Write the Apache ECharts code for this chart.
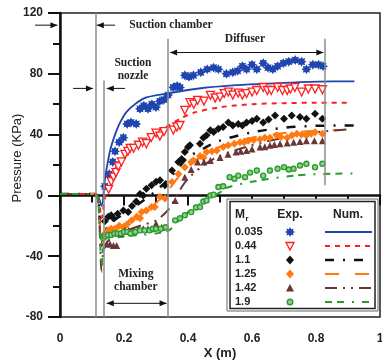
<!DOCTYPE html>
<html>
<head>
<meta charset="utf-8">
<script src="https://cdn.jsdelivr.net/npm/echarts@6/dist/echarts.min.js"></script>
<style>
html,body{margin:0;padding:0;background:#fff;}
#chart{width:382px;height:360px;}
</style>
</head>
<body>
<div id="chart"></div>
<script>
// pressure along the ejector, x in m, pressure in kPa
var mrLabels = ['0.035', '0.44', '1.1', '1.25', '1.42', '1.9'];
var colors = ['#1f45b0', '#ff1f1f', '#111111', '#ff7a12', '#6b3636', '#2a9a2a'];

// experimental points
var exp035 = [[0.14,6],[0.154,14],[0.165,22],[0.172,29],[0.185,35],[0.198,38],[0.21,47],[0.222,48],[0.238,47],[0.25,57],[0.262,59],[0.275,57],[0.287,60],[0.3,58],[0.312,62],[0.325,63],[0.338,66],[0.354,71],[0.366,72],[0.375,71],[0.39,79],[0.403,78],[0.417,79],[0.44,81],[0.46,83],[0.48,84],[0.495,83],[0.52,80],[0.54,81],[0.555,82],[0.57,85],[0.583,83],[0.6,86],[0.615,83],[0.635,87],[0.65,84],[0.665,83],[0.68,85],[0.698,87],[0.715,88],[0.735,89],[0.755,88],[0.77,83],[0.79,86],[0.808,86],[0.822,85]];
var exp044 = [[0.152,4],[0.16,9],[0.167,12],[0.175,15],[0.182,19],[0.192,22],[0.203,27],[0.212,29],[0.219,31],[0.23,31],[0.245,33],[0.258,35],[0.27,34],[0.285,38],[0.3,41],[0.312,39],[0.325,42],[0.354,43],[0.365,45],[0.375,46],[0.39,56],[0.406,61],[0.418,60],[0.43,62.5],[0.45,62],[0.47,65.8],[0.485,64],[0.5,64.7],[0.513,67],[0.526,68],[0.54,66],[0.557,67.3],[0.57,66],[0.583,67],[0.6,68],[0.615,69],[0.635,71],[0.648,69],[0.66,69],[0.68,71],[0.695,69],[0.71,69],[0.72,70],[0.734,71],[0.755,68],[0.776,70],[0.797,70],[0.82,69.5]];
var exp110 = [[0.14,-17],[0.151,-14],[0.16,-13],[0.167,-15],[0.18,-12],[0.198,-10],[0.213,-11],[0.225,-7],[0.238,-4],[0.25,1],[0.26,0],[0.27,4.4],[0.286,6.6],[0.3,9],[0.3125,10],[0.328,6.6],[0.35,16.4],[0.37,22],[0.38,24],[0.39,28.5],[0.4,31.8],[0.406,33],[0.4375,34],[0.448,38],[0.458,39.5],[0.47,42.8],[0.48,41.7],[0.495,43.9],[0.51,45],[0.526,48],[0.54,46],[0.557,47],[0.57,46],[0.583,48],[0.6,49],[0.615,50.4],[0.635,48],[0.652,50],[0.672,52.6],[0.7,50.4],[0.724,52.6],[0.75,51.5],[0.77,50.4],[0.797,53.7],[0.82,50.4]];
var exp125 = [[0.14,-25],[0.151,-23],[0.16,-22],[0.172,-22],[0.185,-20],[0.198,-21],[0.21,-19],[0.224,-16.4],[0.24,-14],[0.25,-15],[0.255,-11],[0.27,-10],[0.286,-7.7],[0.296,-7.7],[0.3125,-1],[0.328,-2],[0.35,8.8],[0.37,14],[0.39,18.6],[0.41,22],[0.417,23],[0.4375,26],[0.448,25],[0.458,28.5],[0.475,29],[0.49,29.6],[0.51,31.8],[0.526,33],[0.545,34],[0.5625,35],[0.575,35],[0.588,36],[0.605,36.5],[0.625,37],[0.64,38],[0.656,38],[0.677,39.5],[0.69,38.5],[0.71,38],[0.725,39.5],[0.74,40.6],[0.755,40],[0.77,39.5],[0.785,40.6],[0.797,41.6],[0.82,40.6]];
var exp142 = [[0.146,-32],[0.156,-32],[0.167,-33],[0.177,-33],[0.19,-25],[0.203,-23],[0.215,-23],[0.23,-23],[0.245,-22],[0.26,-22],[0.275,-22],[0.286,-22],[0.3,-18.6],[0.318,-21],[0.36,-3.3],[0.39,12],[0.41,17],[0.43,22],[0.45,22],[0.47,23],[0.5,25],[0.525,27],[0.55,28.5],[0.565,29],[0.583,29.6],[0.6,30.5],[0.625,31.8],[0.64,32],[0.656,33],[0.67,33.5],[0.6875,34],[0.71,34.5],[0.73,35],[0.75,35.5],[0.77,36],[0.795,36],[0.82,36]];
var exp190 = [[0.135,-28],[0.14,-27],[0.15,-26],[0.16,-26],[0.17,-25],[0.18,-25],[0.19,-25],[0.2,-24],[0.21,-24],[0.22,-25],[0.235,-24],[0.25,-23],[0.265,-23],[0.28,-23],[0.29,-22],[0.3,-22],[0.315,-22],[0.33,-21],[0.36,-16.4],[0.375,-15],[0.39,-13],[0.41,-11],[0.425,-8],[0.4375,-7.7],[0.448,-4],[0.458,-3.3],[0.47,0],[0.48,0.5],[0.495,5.5],[0.51,6],[0.53,12],[0.545,11],[0.557,13],[0.578,12],[0.594,15],[0.615,16.4],[0.635,13],[0.656,16.4],[0.68,17.5],[0.7,18.6],[0.715,17],[0.73,17.5],[0.75,19.7],[0.77,20.8],[0.797,18.6],[0.82,20.8]];

// numerical curves
var num035 = [[0,1],[0.11,1],[0.12,-1],[0.13,-7],[0.14,10],[0.156,29],[0.172,40],[0.188,48],[0.208,55],[0.24,61],[0.27,64.5],[0.333,67],[0.44,70.5],[0.54,72.4],[0.65,73.5],[0.75,74.5],[0.85,75],[0.92,75]];
var num044 = [[0,1],[0.11,1],[0.12,-2],[0.13,-15],[0.14,-2],[0.16,12],[0.18,20],[0.2,27],[0.25,36],[0.3,42],[0.34,46],[0.38,51],[0.42,54.5],[0.5,58],[0.6,60],[0.7,60.7],[0.8,61],[0.91,61]];
var num110 = [[0,1],[0.11,1],[0.12,-3],[0.13,-33],[0.14,-24],[0.16,-18],[0.2,-12],[0.25,-5],[0.3,3],[0.34,11],[0.37,18],[0.4,25],[0.45,31],[0.5,36],[0.6,41.5],[0.7,44.5],[0.8,45.8],[0.93,46]];
var num125 = [[0,1],[0.11,1],[0.12,-4],[0.13,-33],[0.14,-27],[0.17,-22],[0.2,-19],[0.25,-13],[0.3,-5],[0.34,4],[0.37,12],[0.4,19],[0.45,27],[0.5,32],[0.55,35.5],[0.6,38],[0.7,41],[0.8,42.5],[0.88,43]];
var num142 = [[0,1],[0.11,1],[0.12,-5],[0.13,-50],[0.135,-38],[0.15,-30],[0.2,-24],[0.25,-20],[0.3,-16.5],[0.34,-9],[0.37,2],[0.4,11],[0.45,20],[0.5,26],[0.6,33],[0.7,38],[0.8,41.5],[0.9,43.5]];
var num190 = [[0,1],[0.11,1],[0.12,-5],[0.13,-47],[0.135,-35],[0.15,-29],[0.2,-27],[0.25,-26],[0.3,-25],[0.34,-23],[0.37,-17],[0.4,-11],[0.45,-4],[0.5,2],[0.52,5],[0.6,9],[0.73,13],[0.8,14],[0.93,14.5]];

// section boundaries (x) and the span each grey line covers (kPa)
var zoneX = [0.112, 0.137, 0.338, 0.828];
var zoneTop = [120, 75.6, 103, 103];
var zoneBottom = [-80, -80, -80, 6.6];

// section labels and arrows
var notes = [
    {text: 'Suction chamber', x: 0.347, y: 112},
    {text: 'Suction\nnozzle', x: 0.228, y: 83},
    {text: 'Diffuser', x: 0.578, y: 102.6},
    {text: 'Mixing\nchamber', x: 0.237, y: -56}
];
var arrows = [
    {from: [-0.078, 112], to: [-0.008, 112], both: false},
    {from: [0.172, 112], to: [0.115, 112], both: false},
    {from: [0.041, 70.4], to: [0.103, 70.4], both: false},
    {from: [0.203, 70.4], to: [0.146, 70.4], both: false},
    {from: [0.344, 94], to: [0.823, 94], both: true},
    {from: [0.146, -71], to: [0.333, -71], both: true}
];

var expData = [exp035, exp044, exp110, exp125, exp142, exp190];
var numData = [num035, num044, num110, num125, num142, num190];

function starPath(n, R, r) {
    var s = '';
    for (var i = 0; i < n * 2; i++) {
        var a = Math.PI * i / n - Math.PI / 2;
        var rr = i % 2 ? r : R;
        s += (i ? 'L' : 'M') + (rr * Math.cos(a)).toFixed(2) + ',' + (rr * Math.sin(a)).toFixed(2);
    }
    return 'path://' + s + 'Z';
}
function starPts(cx, cy, n, R, r) {
    var p = [];
    for (var i = 0; i < n * 2; i++) {
        var a = Math.PI * i / n - Math.PI / 2;
        var rr = i % 2 ? r : R;
        p.push([cx + rr * Math.cos(a), cy + rr * Math.sin(a)]);
    }
    return p;
}

var markers = [
    {symbol: starPath(8, 10, 6.2), size: 10, rotate: 0, fill: colors[0], stroke: colors[0], bw: 0},
    {symbol: 'triangle', size: 8, rotate: 180, fill: '#fff', stroke: colors[1], bw: 1.3},
    {symbol: 'diamond', size: 8, rotate: 0, fill: colors[2], stroke: colors[2], bw: 0},
    {symbol: 'diamond', size: 8, rotate: 0, fill: colors[3], stroke: colors[3], bw: 0},
    {symbol: 'triangle', size: 7, rotate: 0, fill: colors[4], stroke: colors[4], bw: 0},
    {symbol: 'circle', size: 5, rotate: 0, fill: '#8fd08f', stroke: colors[5], bw: 1.4}
];
var dashes = ['solid', [5, 5], [9, 9, 2, 9], [14, 16], [12, 6, 2, 6, 2, 6], [7, 5, 7, 8, 2, 8]];
var widths = [1.8, 2, 2.5, 2, 2, 2];

var series = [];
for (var i = 0; i < mrLabels.length; i++) {
    series.push({
        name: 'num ' + mrLabels[i],
        type: 'line',
        data: numData[i],
        smooth: 0.3,
        showSymbol: false,
        z: 3,
        lineStyle: {color: colors[i], width: widths[i], type: dashes[i]}
    });
}
for (var i = 0; i < mrLabels.length; i++) {
    series.push({
        name: 'exp ' + mrLabels[i],
        type: 'scatter',
        data: expData[i],
        symbol: markers[i].symbol,
        symbolSize: markers[i].size,
        symbolRotate: markers[i].rotate,
        z: 4,
        itemStyle: {color: markers[i].fill, borderColor: markers[i].stroke, borderWidth: markers[i].bw, opacity: 1}
    });
}
// grey section boundaries
var zoneLines = [];
for (var i = 0; i < zoneX.length; i++) {
    zoneLines.push([{coord: [zoneX[i], zoneTop[i]]}, {coord: [zoneX[i], zoneBottom[i]]}]);
}
series.push({
    name: 'zones',
    type: 'line',
    data: [],
    z: 2,
    markLine: {
        silent: true,
        animation: false,
        symbol: ['none', 'none'],
        label: {show: false},
        lineStyle: {color: '#8c8c8c', width: 1.5, type: 'solid'},
        data: zoneLines
    }
});

var option = {
    animation: false,
    backgroundColor: '#fff',
    textStyle: {fontFamily: 'Liberation Sans'},
    grid: {left: 60, right: 2, top: 13, bottom: 43, containLabel: false, outerBoundsMode: 'none',
        show: true, borderColor: '#222', borderWidth: 1.5},
    xAxis: {
        type: 'value', min: 0, max: 1, interval: 0.2,
        name: 'X (m)', nameLocation: 'middle', nameGap: 30, nameMoveOverlap: false,
        nameTextStyle: {fontSize: 13, fontWeight: 'bold', color: '#222'},
        axisLine: {lineStyle: {color: '#111', width: 2.5}},
        axisTick: {length: 10, lineStyle: {width: 2, color: '#111'}},
        minorTick: {show: true, splitNumber: 2, length: 7, lineStyle: {width: 2, color: '#111'}},
        splitLine: {show: false},
        axisLabel: {margin: 16, fontSize: 12, fontWeight: 'bold', color: '#222'}
    },
    yAxis: {
        type: 'value', min: -80, max: 120, interval: 40,
        name: 'Pressure (KPa)', nameLocation: 'middle', nameGap: 36, nameMoveOverlap: false,
        nameTextStyle: {fontSize: 13, color: '#222', padding: [0, 0, 0, 14]},
        axisLine: {lineStyle: {color: '#111', width: 2.5}},
        axisTick: {length: 12, lineStyle: {width: 2, color: '#111'}},
        minorTick: {show: true, splitNumber: 2, length: 7, lineStyle: {width: 2, color: '#111'}},
        splitLine: {show: false},
        axisLabel: {margin: 17, fontSize: 12, fontWeight: 'bold', color: '#222'}
    },
    series: series
};

var chart = echarts.init(document.getElementById('chart'));
chart.setOption(option);

// annotations placed through the axes
function px(p) { return chart.convertToPixel({gridIndex: 0}, p); }
function head(tip, from) {
    var dx = tip[0] - from[0], dy = tip[1] - from[1];
    var len = Math.sqrt(dx * dx + dy * dy), ux = dx / len, uy = dy / len;
    var L = 7, W = 3;
    var bx = tip[0] - ux * L, by = tip[1] - uy * L;
    return {type: 'polygon', z: 10, shape: {points: [tip, [bx - uy * W, by + ux * W], [bx + uy * W, by - ux * W]]}, style: {fill: '#111'}};
}
var graphics = [];
arrows.forEach(function (a) {
    var p1 = px(a.from), p2 = px(a.to);
    graphics.push({type: 'line', z: 10, shape: {x1: p1[0], y1: p1[1], x2: p2[0], y2: p2[1]}, style: {stroke: '#111', lineWidth: 1}});
    graphics.push(head(p2, p1));
    if (a.both) graphics.push(head(p1, p2));
});
notes.forEach(function (n) {
    var p = px([n.x, n.y]);
    graphics.push({
        type: 'text', z: 10, x: p[0], y: p[1],
        style: {text: n.text, fill: '#222', font: 'bold 11.5px "Liberation Serif"', align: 'center', verticalAlign: 'middle', lineHeight: 13}
    });
});

// legend box
var lx = 227, ly = 199;
graphics.push({type: 'rect', z: 20, shape: {x: lx, y: ly, width: 151, height: 112}, style: {fill: '#fff', stroke: '#666', lineWidth: 1}});
graphics.push({type: 'rect', z: 20, shape: {x: lx + 3, y: ly + 2.5, width: 145, height: 107}, style: {fill: 'none', stroke: '#222', lineWidth: 1.5}});
graphics.push({type: 'text', z: 21, x: 235, y: 215, style: {text: 'M', fill: '#222', font: 'bold 12px "Liberation Sans"', verticalAlign: 'middle'}});
graphics.push({type: 'text', z: 21, x: 245.5, y: 219, style: {text: 'r', fill: '#222', font: 'bold 8px "Liberation Sans"', verticalAlign: 'middle'}});
graphics.push({type: 'text', z: 21, x: 290, y: 215, style: {text: 'Exp.', fill: '#222', font: 'bold 12px "Liberation Sans"', align: 'center', verticalAlign: 'middle'}});
graphics.push({type: 'text', z: 21, x: 348, y: 215, style: {text: 'Num.', fill: '#222', font: 'bold 12px "Liberation Sans"', align: 'center', verticalAlign: 'middle'}});
for (var i = 0; i < mrLabels.length; i++) {
    var ry = 232 + i * 14;
    graphics.push({type: 'text', z: 21, x: 235, y: ry, style: {text: mrLabels[i], fill: '#222', font: 'bold 11px "Liberation Sans"', verticalAlign: 'middle'}});
    var m = markers[i], mk;
    if (i === 0) mk = {type: 'polygon', shape: {points: starPts(290, ry, 8, 5, 3.1)}, style: {fill: m.fill}};
    else if (m.symbol === 'diamond') mk = {type: 'polygon', shape: {points: [[290, ry - 4.5], [294, ry], [290, ry + 4.5], [286, ry]]}, style: {fill: m.fill}};
    else if (m.symbol === 'circle') mk = {type: 'circle', shape: {cx: 290, cy: ry, r: 2.8}, style: {fill: m.fill, stroke: m.stroke, lineWidth: m.bw}};
    else if (m.rotate === 180) mk = {type: 'polygon', shape: {points: [[286, ry - 3.5], [294, ry - 3.5], [290, ry + 4]]}, style: {fill: m.fill, stroke: m.stroke, lineWidth: m.bw}};
    else mk = {type: 'polygon', shape: {points: [[286, ry + 3.5], [294, ry + 3.5], [290, ry - 4]]}, style: {fill: m.fill}};
    mk.z = 21;
    graphics.push(mk);
    graphics.push({
        type: 'line', z: 21, shape: {x1: 325, y1: ry, x2: 372, y2: ry},
        style: {stroke: colors[i], lineWidth: widths[i], lineDash: dashes[i] === 'solid' ? null : dashes[i]}
    });
}
chart.setOption({graphic: graphics});
</script>
</body>
</html>
